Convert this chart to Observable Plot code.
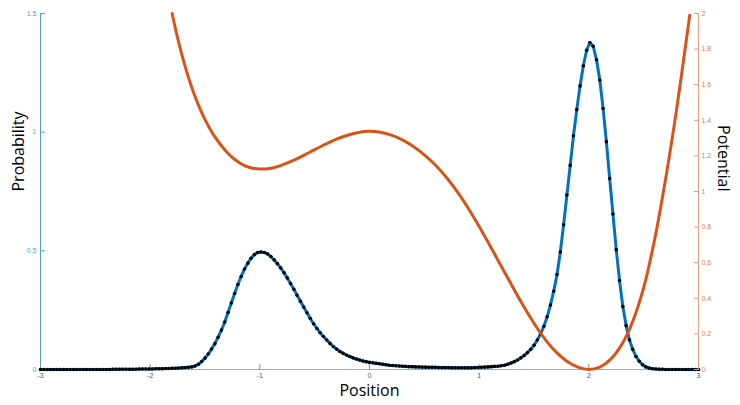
<!DOCTYPE html>
<html><head><meta charset="utf-8">
<script src="https://cdn.jsdelivr.net/npm/d3@7"></script>
<script src="https://cdn.jsdelivr.net/npm/@observablehq/plot@0.6"></script>
<style>
html,body{margin:0;padding:0;background:#fff;}
#chart{position:relative;width:740px;height:405px;}
#chart svg{position:absolute;left:0;top:0;}
</style></head><body><div id="chart"></div>
<script>
// Sampling grid of the probability curve: x = -3, -2.97, ..., 3
const xStart = -3, xStep = 0.03;
const probability = [
0,0,0,0,0,0,0,0,0,0,
0,0,0,0,0,0,0,0,0,0,
0,0,0.001,0.001,0.001,0.001,0.001,0.001,0.001,0.001,
0.002,0.002,0.002,0.002,0.002,0.003,0.003,0.003,0.004,0.004,
0.005,0.005,0.006,0.007,0.008,0.009,0.011,0.015,0.022,0.034,
0.048,0.065,0.086,0.109,0.136,0.166,0.200,0.240,0.280,0.320,
0.358,0.392,0.423,0.448,0.469,0.484,0.493,0.495,0.493,0.487,
0.476,0.462,0.446,0.428,0.408,0.386,0.362,0.338,0.313,0.288,
0.263,0.239,0.215,0.193,0.173,0.155,0.139,0.124,0.110,0.097,
0.086,0.076,0.068,0.061,0.055,0.049,0.044,0.040,0.036,0.033,
0.030,0.028,0.026,0.024,0.022,0.020,0.018,0.017,0.016,0.015,
0.014,0.013,0.012,0.012,0.011,0.011,0.010,0.010,0.009,0.009,
0.009,0.008,0.008,0.008,0.008,0.007,0.007,0.007,0.007,0.007,
0.007,0.007,0.008,0.008,0.009,0.010,0.011,0.012,0.013,0.014,
0.016,0.018,0.022,0.027,0.033,0.040,0.049,0.059,0.071,0.085,
0.102,0.124,0.150,0.182,0.222,0.272,0.330,0.400,0.495,0.610,
0.735,0.860,0.985,1.095,1.195,1.280,1.345,1.378,1.362,1.305,
1.220,1.100,0.960,0.805,0.655,0.505,0.375,0.265,0.185,0.125,
0.085,0.055,0.035,0.020,0.011,0.006,0.003,0.002,0.001,0.001,
0,0,0,0,0,0,0,0,0,0,
0
];
const potentialX = [-1.80,-1.75,-1.70,-1.65,-1.60,-1.55,-1.50,-1.45,-1.40,-1.35,-1.30,-1.25,-1.20,-1.15,-1.10,-1.05,-1.00,-0.95,-0.90,-0.85,-0.80,-0.70,-0.60,-0.50,-0.40,-0.30,-0.20,-0.10,0.00,0.10,0.20,0.30,0.40,0.50,0.60,0.70,0.80,0.90,1.00,1.10,1.20,1.30,1.40,1.50,1.60,1.70,1.80,1.90,2.00,2.10,2.20,2.30,2.40,2.50,2.60,2.70,2.80,2.90,2.92];
const potentialV = [2.000,1.863,1.744,1.640,1.549,1.471,1.404,1.347,1.298,1.257,1.221,1.191,1.167,1.149,1.136,1.129,1.126,1.127,1.131,1.138,1.148,1.173,1.203,1.235,1.266,1.294,1.316,1.332,1.338,1.333,1.317,1.290,1.253,1.206,1.149,1.080,0.999,0.906,0.803,0.694,0.582,0.470,0.361,0.260,0.171,0.099,0.046,0.013,0.000,0.013,0.058,0.140,0.270,0.460,0.730,1.070,1.460,1.900,1.990];
const xTicks = [-3,-2,-1,0,1,2,3];
const probTicks = [0,0.5,1,1.5];
const potTicks = [0,0.2,0.4,0.6,0.8,1,1.2,1.4,1.6,1.8,2];

const probData = probability.map((p, i) => ({x: +(xStart + i * xStep).toFixed(2), p}));
const potData = potentialX.map((x, i) => ({x, v: potentialV[i]}));

const W = 740, H = 405;
const margins = {marginTop: 13, marginRight: 42, marginBottom: 36, marginLeft: 40};
const tickFont = "'Liberation Sans', Arial, Helvetica, sans-serif";
const labelFont = "'Open Sans', 'Noto Sans', sans-serif";
const leftColor = "#4f9fca", rightLine = "#dca07c", rightText = "#d0804d";
const blue = "#0072BD", orange = "#D95319";

const plot1 = Plot.plot({
  width: W, height: H, ...margins,
  style: {background: "transparent", fontFamily: tickFont, fontSize: "7px"},
  x: {domain: [-3, 3]},
  y: {domain: [0, 1.5]},
  marks: [
    Plot.ruleY([0], {stroke: "#a8a8a8"}),
    Plot.ruleX([-3], {stroke: leftColor}),
    Plot.axisX(xTicks, {tickSize: -5, fill: "none", stroke: "#8a8a8a", label: null}),
    Plot.axisX(xTicks, {tickSize: 0, tickPadding: 4, fill: "#555", label: null, tickFormat: d => String(d)}),
    Plot.axisY(probTicks, {anchor: "left", tickSize: -5, fill: "none", stroke: leftColor, label: null}),
    Plot.axisY(probTicks, {anchor: "left", tickSize: 0, tickPadding: 4, fill: leftColor, label: null, tickFormat: d => String(d)}),
    Plot.line(probData, {x: "x", y: "p", stroke: blue, strokeWidth: 3}),
    Plot.dot(probData, {x: "x", y: "p", r: 1.8, fill: "black", stroke: null}),
    Plot.text(["Probability"], {text: d => d, frameAnchor: "left", dx: -22, rotate: -90, fontSize: 16, fontFamily: labelFont, fill: "black"}),
    Plot.text(["Position"], {text: d => d, frameAnchor: "bottom", dy: 26, fontSize: 16, fontFamily: labelFont, fill: "black"}),
    Plot.text(["Potential"], {text: d => d, frameAnchor: "right", dx: 25, rotate: 90, fontSize: 16, fontFamily: labelFont, fill: "black"})
  ]
});

const plot2 = Plot.plot({
  width: W, height: H, ...margins,
  style: {background: "transparent", fontFamily: tickFont, fontSize: "7px"},
  x: {domain: [-3, 3], axis: null},
  y: {domain: [0, 2], axis: null},
  marks: [
    Plot.ruleX([3], {stroke: rightLine}),
    Plot.axisY(potTicks, {anchor: "right", tickSize: -5, fill: "none", stroke: rightLine, label: null}),
    Plot.axisY(potTicks, {anchor: "right", tickSize: 0, tickPadding: 3, fill: rightText, label: null, tickFormat: d => String(d)}),
    Plot.line(potData, {x: "x", y: "v", stroke: orange, strokeWidth: 3, curve: "catmull-rom"})
  ]
});

const el = document.getElementById("chart");
el.appendChild(plot1);
el.appendChild(plot2);
</script></body></html>
